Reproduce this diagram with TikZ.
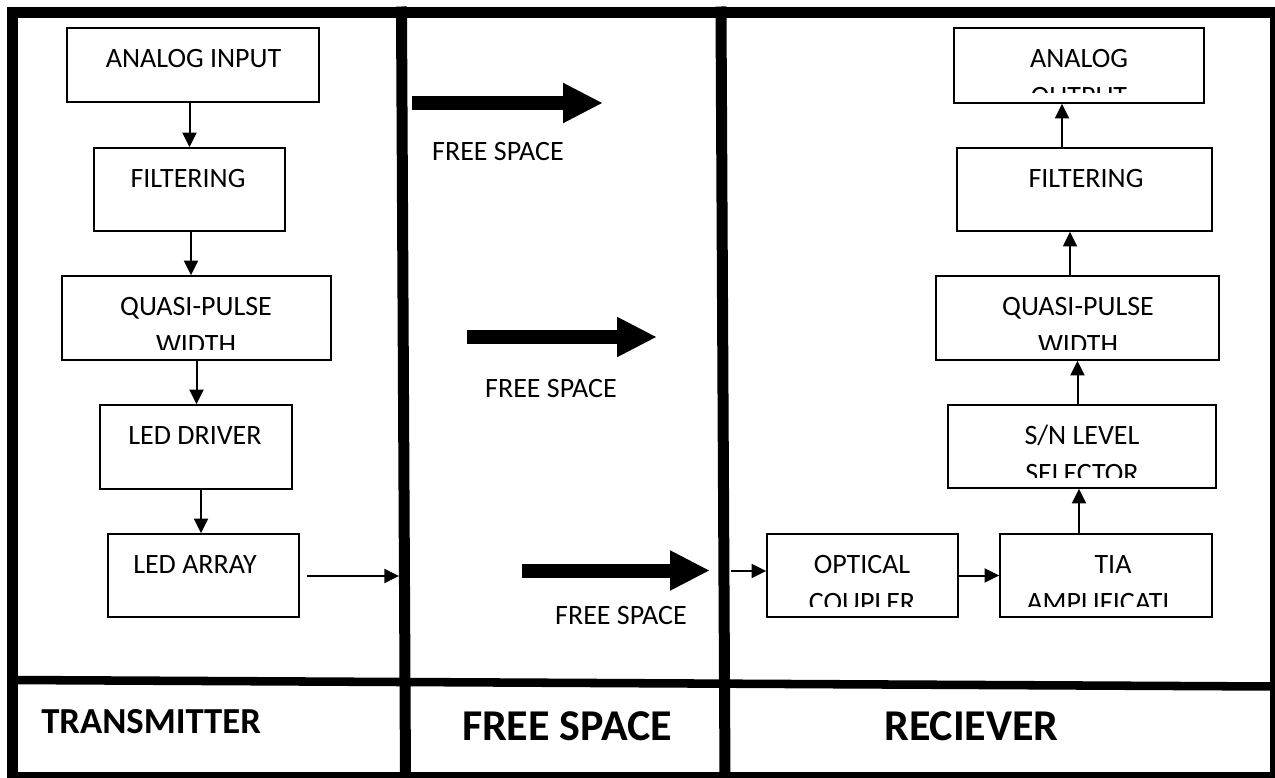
\documentclass[tikz,border=0pt]{standalone}
\usepackage{fontspec}
\setmainfont{Carlito}
\usetikzlibrary{arrows.meta,fit,calc}
\tikzset{
  box/.style={draw=black, line width=1.2pt, inner sep=0pt},
  lbl/.style={anchor=base, inner sep=0pt, font=\fontsize{21}{25}\selectfont},
  conn/.style={line width=1.5pt, -{Triangle[length=11pt,width=10.5pt]}},
  bigarrow/.style={line width=10.5pt, -{Triangle[length=30pt,width=28pt]}},
  frameline/.style={line width=8.25pt, line cap=rect},
  foot/.style={inner sep=0pt, font=\fontsize{33}{36}\selectfont\bfseries},
}
% #1 name, #2 x0, #3 y0, #4 x1, #5 y1, #6 x of line 1, #7 line 1, #8 x of line 2, #9 line 2
\newcommand\tbox[9]{%
  \node[box, fit={(#2,#3) (#4,#5)}] (#1) {};
  \begin{scope}
    \clip (#2,#3) rectangle (#4,{#5-10.5});
    \node[lbl] (#1-a) at (#6,{#3+39}) {#7};
    \node[lbl] (#1-b) at (#8,{#3+77.5}) {#9};
  \end{scope}}
\begin{document}
\begin{tikzpicture}[x=0.75pt,y=-0.75pt]
  \useasboundingbox (0,0) rectangle (1275,778);
  \clip (0,0) rectangle (1275,778);
  \fill[white] (0,0) rectangle (1275,778);

  % frame
  \draw[line width=8.25pt] (12.5,12.5) rectangle (1275.5,777.5);
  \draw[frameline] (401.5,12) -- (405.5,778);
  \draw[frameline] (721,12) -- (725,778);
  \draw[line width=6.4pt] (12,680) -- (1275,686.5);

  % transmitter
  \tbox{inA}{67}{28}{319}{102}{193.5}{ANALOG INPUT}{193.5}{}
  \tbox{filtA}{94}{148}{285}{231}{188}{FILTERING}{188}{}
  \tbox{qpA}{62}{276}{331}{360}{196}{QUASI-PULSE}{196}{WIDTH}
  \tbox{drv}{100}{405}{292}{489}{195}{LED DRIVER}{195}{}
  \tbox{led}{108}{534}{299}{617}{195}{LED ARRAY}{195}{}

  \draw[conn] (inA.south -| filtA.north) -- (filtA.north);
  \draw[conn] ([xshift=1.1pt]filtA.south) -- ([xshift=1.1pt]filtA.south |- qpA.north);
  \draw[conn] (qpA.south) -- (qpA.south |- drv.north);
  \draw[conn] ([xshift=3.75pt]drv.south) -- ([xshift=3.75pt]drv.south |- led.north);
  \coordinate (d1in) at (399,576);
  \draw[conn] ([xshift=5.25pt]led.east |- d1in) -- (d1in);

  % free space
  \coordinate (a1s) at (412,103); \coordinate (a1e) at (603,103);
  \coordinate (a2s) at (467,337); \coordinate (a2e) at (657,337);
  \coordinate (a3s) at (522,570.5); \coordinate (a3e) at (710,570.5);
  \draw[bigarrow] (a1s) -- (a1e);
  \draw[bigarrow] (a2s) -- (a2e);
  \draw[bigarrow] (a3s) -- (a3e);
  \node[lbl] (fs1) at (498,160) {FREE SPACE};
  \node[lbl] (fs2) at (551,397) {FREE SPACE};
  \node[lbl] (fs3) at (621,624) {FREE SPACE};

  % receiver
  \tbox{out}{954}{28}{1204}{103}{1079}{ANALOG}{1079}{OUTPUT}
  \tbox{filtB}{957}{148}{1212}{231}{1086}{FILTERING}{1086}{}
  \tbox{qpB}{936}{276}{1219}{360}{1078}{QUASI-PULSE}{1078}{WIDTH}
  \tbox{sn}{948}{405}{1216}{488}{1082}{S/N LEVEL}{1082}{SELECTOR}
  \tbox{opt}{767}{534}{958}{617}{862}{OPTICAL}{862}{COUPLER}
  \tbox{tia}{1000}{534}{1212}{617}{1113}{TIA}{1098}{AMPLIFICATI}

  \coordinate (d2out) at (731,571);
  \draw[conn] (d2out) -- (d2out -| opt.west);
  \draw[conn] (opt.east) -- (tia.west);
  \draw[conn] ([xshift=-2.25pt]sn.south |- tia.north) -- ([xshift=-2.25pt]sn.south);
  \draw[conn] (qpB.south |- sn.north) -- (qpB.south);
  \draw[conn] ([xshift=-5.6pt]qpB.north) -- ([xshift=-5.6pt]qpB.north |- filtB.south);
  \draw[conn] ([xshift=-16.9pt]filtB.north) -- ([xshift=-16.9pt]filtB.north |- out.south);

  % footer
  \node[foot, anchor=base west, font=\fontsize{27.5}{30}\selectfont\bfseries] (tx) at (41,733) {TRANSMITTER};
  \node[foot, anchor=base] (fs) at (567,740) {FREE SPACE};
  \node[foot, anchor=base] (rx) at (971.5,740) {RECIEVER};
\end{tikzpicture}
\end{document}
